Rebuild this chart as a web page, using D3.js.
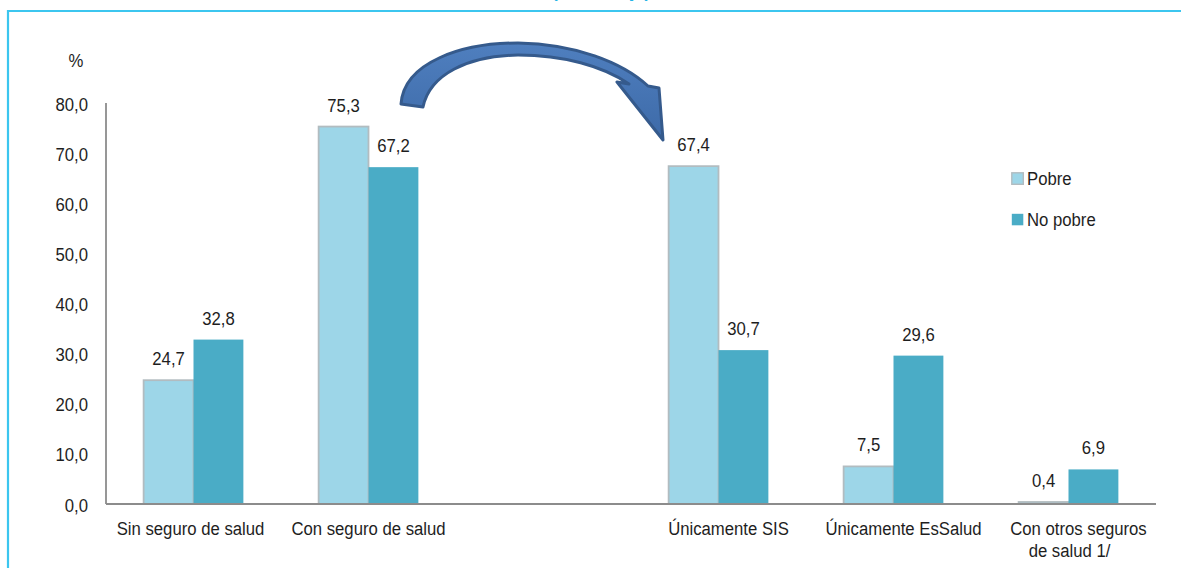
<!DOCTYPE html>
<html><head><meta charset="utf-8">
<script src="https://cdn.jsdelivr.net/npm/d3@7"></script>
<style>
body{margin:0;background:#fff;}
svg{display:block;font-family:"Liberation Sans",Arial,sans-serif;}
</style></head><body>
<svg id="c" width="1181" height="568"></svg>
<script>
const categories = ["Sin seguro de salud","Con seguro de salud","","Únicamente SIS","Únicamente EsSalud","Con otros seguros|de salud 1/"];
const series = ["Pobre","No pobre"];
const pobre   = [24.7, 75.3, null, 67.4, 7.5, 0.4];
const noPobre = [32.8, 67.2, null, 30.7, 29.6, 6.9];
const yTicks = [0,10,20,30,40,50,60,70,80];
const colors = ["#9dd6e8","#4aacc6"];

const FS = 19, SX = 0.88, TXT = "#1e1e1e";
const svg = d3.select("#c");
const fmt = v => d3.format(".1f")(v).replace(".", ",");
function label(parent, x, y, str, anchor){
  return parent.append("text")
    .attr("transform", `translate(${x},${y}) scale(${SX},1)`)
    .attr("text-anchor", anchor || "middle")
    .attr("font-size", FS).attr("fill", TXT).text(str);
}

// frame
svg.append("path").attr("d","M8,569 L8,11 L1182,11").attr("fill","none")
  .attr("stroke","#3cc6ef").attr("stroke-width",2.2);
// cut-off title (only its lowest pixels are visible)
svg.append("text").attr("x",601).attr("y",-2.5).attr("text-anchor","middle")
  .attr("font-size",17).attr("font-weight","bold").attr("fill","#22b4e6").text("(Porcentaje)");

const x0 = d3.scaleBand().domain(categories).range([106,1156]).paddingInner(0.43).paddingOuter(0.215);
const x1 = d3.scaleBand().domain(series).range([0,x0.bandwidth()]);
const y = d3.scaleLinear().domain([0,80]).range([504,103]);

// y axis labels
const ya = svg.append("g").attr("transform","translate(106,0)")
  .call(d3.axisLeft(y).tickValues(yTicks).tickFormat(fmt).tickSize(0).tickPadding(0));
ya.select(".domain").remove();
ya.selectAll("text").attr("font-size",FS).attr("fill",TXT).attr("font-family",null)
  .attr("x",null).attr("dy",null).attr("text-anchor","end")
  .attr("transform",`translate(-18,7) scale(${SX},1)`);

label(svg, 76, 66.5, "%");

const rows = categories.map((c,i)=>({c, vals:[pobre[i], noPobre[i]]}));
const g = svg.append("g");
rows.forEach(r=>{
  r.vals.forEach((v,j)=>{
    if(v==null) return;
    const bx = x0(r.c)+x1(series[j]);
    g.append("rect").attr("x",bx).attr("y",y(v)).attr("width",x1.bandwidth())
      .attr("height",y(0)-y(v)).attr("fill",colors[j])
      .attr("stroke", j===0 ? "#b2bcc0" : "none").attr("stroke-width",j===0?1.8:0);
    label(g, bx+x1.bandwidth()/2, y(v)-15, fmt(v));
  });
});

// axes lines
svg.append("line").attr("x1",106).attr("x2",106).attr("y1",y(80)).attr("y2",y(0))
  .attr("stroke","#8c8c8c").attr("stroke-width",1.8);
svg.append("line").attr("x1",106).attr("x2",1156).attr("y1",y(0)).attr("y2",y(0))
  .attr("stroke","#8c8c8c").attr("stroke-width",1.8);

// category labels (labels after the empty slot sit slightly right of their bars)
categories.forEach((c,i)=>{
  if(!c) return;
  const shift = i > 2 ? 10 : (i === 0 ? -3 : 0);
  c.split("|").forEach((l,k)=>{
    label(svg, x0(c)+x0.bandwidth()/2 + shift - k*9, 535+k*22, l);
  });
});

// legend
const lg = svg.append("g").attr("transform","translate(1011,172)");
series.forEach((s,i)=>{
  const gy = i*41;
  lg.append("rect").attr("x",0.8).attr("y",gy+0.8).attr("width",11.5).attr("height",11.5)
    .attr("fill",colors[i]).attr("stroke",i===0?"#b2bcc0":"none").attr("stroke-width",1.4);
  label(lg, 16, gy+13, s, "start");
});

// curved arrow annotation from "Con seguro" to "Únicamente SIS"
const defs = svg.append("defs");
const gr = defs.append("linearGradient").attr("id","ag").attr("x1","0").attr("y1","0").attr("x2","0").attr("y2","1");
gr.append("stop").attr("offset","0").attr("stop-color","#4f7fbf");
gr.append("stop").attr("offset","1").attr("stop-color","#3d6aa8");
svg.append("path")
  .attr("d","M401,104 C404,62 462,43 518,43 C575,44 622,62 648,86 L659,88 L663,140 L617,82 L629,84 C603,66 563,55 518,55 C468,56 430,74 423,107 Z")
  .attr("fill","url(#ag)").attr("stroke","#355a8c").attr("stroke-width",3).attr("stroke-linejoin","round");
</script>
</body></html>
